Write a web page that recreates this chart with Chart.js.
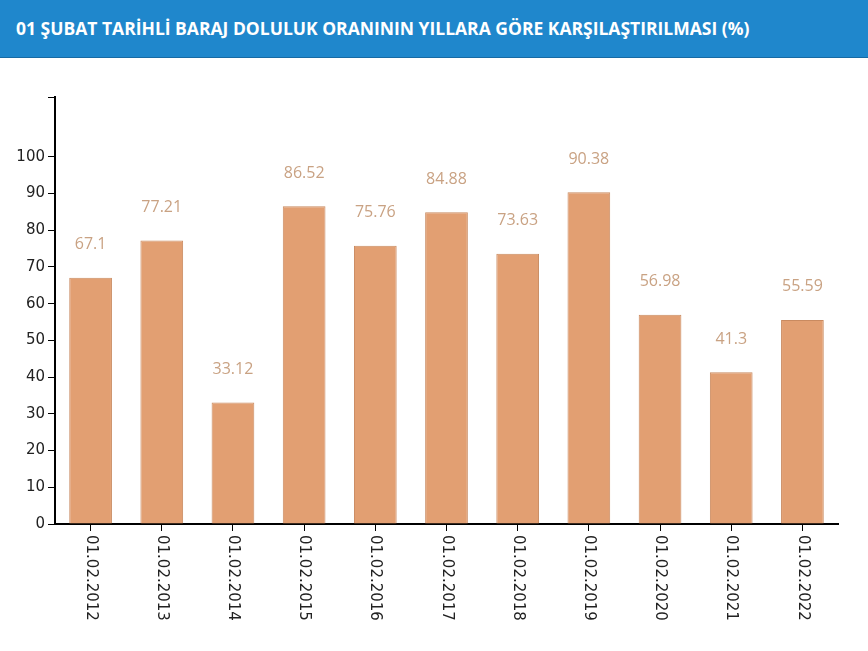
<!DOCTYPE html>
<html><head><meta charset="utf-8">
<script src="https://cdn.jsdelivr.net/npm/chart.js@4"></script>
<style>
  body { margin:0; background:#fff; font-family:"Open Sans",sans-serif; }
  .hdr { height:58px; background:#1f87cc; color:#fff; font-weight:700; font-size:17.5px; line-height:56px; padding-left:16px; border-bottom:1px solid #176aa3; box-sizing:border-box; white-space:nowrap; }
  .wrap { width:868px; height:593px; }
</style></head>
<body>
<div class="hdr">01 ŞUBAT TARİHLİ BARAJ DOLULUK ORANININ YILLARA GÖRE KARŞILAŞTIRILMASI (%)</div>
<div class="wrap"><canvas id="c"></canvas></div>
<script>
const categories = ['01.02.2012','01.02.2013','01.02.2014','01.02.2015','01.02.2016','01.02.2017','01.02.2018','01.02.2019','01.02.2020','01.02.2021','01.02.2022'];
const values = [67.1, 77.21, 33.12, 86.52, 75.76, 84.88, 73.63, 90.38, 56.98, 41.3, 55.59];
const yTicks = [0,10,20,30,40,50,60,70,80,90,100];
const yMax = 116.3;

const drawLabels = {
  id: 'drawLabels',
  afterDatasetsDraw(chart) {
    const ctx = chart.ctx, meta = chart.getDatasetMeta(0), xs = chart.scales.x;
    ctx.save();
    ctx.font = '16px "Open Sans", sans-serif';
    ctx.fillStyle = '#c9a283';
    ctx.textAlign = 'center';
    ctx.textBaseline = 'middle';
    meta.data.forEach((bar, i) => ctx.fillText(String(values[i]), bar.x, bar.y - 33));
    ctx.font = '15px "DejaVu Sans", sans-serif';
    ctx.fillStyle = '#222';
    ctx.textAlign = 'left';
    categories.forEach((c, i) => {
      const x = xs.getPixelForTick(i);
      ctx.save();
      ctx.translate(x, chart.chartArea.bottom + 11);
      ctx.rotate(Math.PI / 2);
      ctx.fillText(c, 0, 0);
      ctx.restore();
    });
    ctx.restore();
  }
};

new Chart(document.getElementById('c'), {
  type: 'bar',
  data: { labels: categories, datasets: [{ data: values, backgroundColor: '#e29f72', borderColor: '#c98a60', borderWidth: 1, barPercentage: 0.6, categoryPercentage: 1 }] },
  options: {
    responsive: true, maintainAspectRatio: false, animation: false,
    layout: { padding: { top: 39, bottom: 0, left: 0, right: 30 } },
    plugins: { legend: { display: false }, tooltip: { enabled: false } },
    scales: {
      x: {
        offset: true,
        grid: { drawOnChartArea: false, tickLength: 7, color: '#000', offset: false },
        border: { color: '#000', width: 2 },
        ticks: { display: false },
        afterFit(s) { s.height = 127; }
      },
      y: {
        min: 0, max: yMax,
        afterBuildTicks(s) { s.ticks = yTicks.map(v => ({ value: v })).concat([{ value: yMax }]); },
        grid: { drawOnChartArea: false, tickLength: 7, color: '#000' },
        border: { color: '#000', width: 2 },
        ticks: { color: '#222', font: { size: 15, family: 'DejaVu Sans' }, padding: 3, callback: v => v <= 100 ? v : '' },
        afterFit(s) { s.width = 55; }
      }
    }
  },
  plugins: [drawLabels]
});
</script>
</body></html>
